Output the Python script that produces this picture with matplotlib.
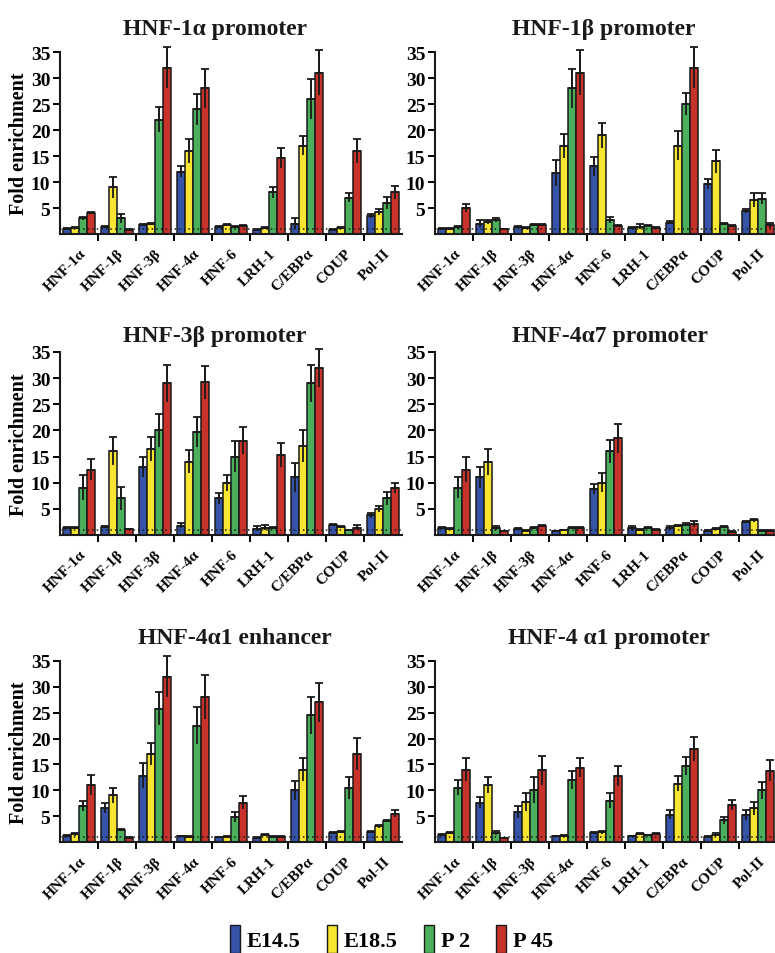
import matplotlib

matplotlib.use("Agg")
import matplotlib.pyplot as plt
import numpy as np
from matplotlib.patches import Patch

plt.rcParams["font.family"] = ["Liberation Serif", "DejaVu Serif"]
plt.rcParams["font.weight"] = "bold"

factors = ["HNF-1α", "HNF-1β", "HNF-3β", "HNF-4α", "HNF-6", "LRH-1", "C/EBPα", "COUP", "Pol-II"]
stages = ["E14.5", "E18.5", "P 2", "P 45"]
colors = ["#3553a8", "#f7e531", "#4caf5c", "#c7322b"]

# rows = stages (E14.5, E18.5, P2, P45), columns = factors
hnf1a_prom = [[1.0, 1.4, 1.8, 12.0, 1.3, 0.8, 2.0, 0.8, 3.5],
              [1.2, 9.0, 2.0, 16.0, 1.7, 1.2, 17.0, 1.2, 4.3],
              [3.0, 3.0, 22.0, 24.0, 1.4, 8.0, 26.0, 7.0, 6.0],
              [4.0, 0.8, 32.0, 28.0, 1.6, 14.6, 31.0, 16.0, 8.0]]
hnf1a_prom_err = [[0.2, 0.2, 0.2, 1.0, 0.2, 0.2, 1.0, 0.2, 0.4],
                  [0.2, 2.0, 0.2, 2.3, 0.2, 0.2, 1.8, 0.2, 0.6],
                  [0.3, 0.8, 2.4, 3.0, 0.2, 1.0, 3.9, 0.9, 1.2],
                  [0.2, 0.1, 4.0, 3.7, 0.2, 1.9, 4.3, 2.3, 1.2]]

hnf1b_prom = [[1.0, 2.0, 1.4, 11.8, 13.0, 1.2, 2.2, 9.6, 4.5],
              [1.0, 2.3, 1.1, 17.0, 19.0, 1.4, 17.0, 14.0, 6.5],
              [1.3, 2.7, 1.8, 28.0, 2.7, 1.5, 25.0, 2.0, 6.8],
              [5.0, 0.9, 1.8, 31.0, 1.6, 1.2, 32.0, 1.6, 1.7]]
hnf1b_prom_err = [[0.2, 0.6, 0.2, 2.5, 1.8, 0.2, 0.3, 1.0, 0.4],
                  [0.2, 0.4, 0.2, 2.3, 2.4, 0.5, 2.8, 2.2, 1.4],
                  [0.3, 0.3, 0.2, 3.7, 0.5, 0.2, 2.2, 0.2, 1.0],
                  [0.8, 0.1, 0.2, 4.3, 0.2, 0.2, 4.0, 0.2, 0.5]]

hnf3b_prom = [[1.3, 1.6, 13.0, 1.8, 7.0, 1.2, 11.0, 1.9, 3.8],
              [1.3, 16.0, 16.5, 14.0, 10.0, 1.4, 17.0, 1.6, 5.0],
              [9.0, 7.0, 20.0, 19.7, 15.0, 1.3, 29.0, 0.9, 7.0],
              [12.5, 1.1, 29.0, 29.2, 18.0, 15.3, 32.0, 1.4, 9.0]]
hnf3b_prom_err = [[0.2, 0.2, 2.0, 0.5, 1.0, 0.5, 2.7, 0.2, 0.5],
                  [0.2, 2.7, 2.3, 2.2, 1.5, 0.5, 3.1, 0.2, 0.6],
                  [2.4, 2.2, 3.2, 2.9, 3.0, 0.2, 3.6, 0.1, 1.2],
                  [2.0, 0.1, 3.6, 3.2, 2.6, 2.3, 3.6, 0.5, 1.0]]

hnf4a7_prom = [[1.3, 11.0, 1.1, 0.7, 8.8, 1.3, 1.3, 0.8, 2.5],
               [1.2, 14.0, 0.8, 0.9, 10.0, 0.9, 1.8, 1.2, 2.8],
               [9.0, 1.3, 1.4, 1.3, 16.0, 1.4, 2.0, 1.5, 0.8],
               [12.5, 0.7, 1.7, 1.4, 18.5, 1.0, 2.1, 0.6, 0.8]]
hnf4a7_prom_err = [[0.2, 2.1, 0.2, 0.1, 1.0, 0.5, 0.4, 0.1, 0.2],
                   [0.2, 2.5, 0.1, 0.1, 1.8, 0.2, 0.2, 0.2, 0.3],
                   [2.0, 0.4, 0.2, 0.2, 2.2, 0.2, 0.3, 0.2, 0.1],
                   [2.4, 0.1, 0.2, 0.2, 2.8, 0.2, 0.5, 0.1, 0.1]]

hnf4a1_enh = [[1.1, 6.6, 12.8, 1.1, 0.9, 0.8, 10.0, 1.7, 2.0],
              [1.5, 9.0, 17.0, 1.0, 1.0, 1.3, 14.0, 2.0, 3.0],
              [7.0, 2.4, 25.8, 22.5, 4.8, 1.0, 24.5, 10.5, 4.0],
              [11.0, 0.8, 32.0, 28.0, 7.6, 1.0, 27.0, 17.0, 5.5]]
hnf4a1_enh_err = [[0.2, 1.0, 2.4, 0.1, 0.1, 0.1, 1.8, 0.2, 0.2],
                  [0.3, 1.4, 2.2, 0.1, 0.1, 0.2, 2.2, 0.2, 0.2],
                  [1.0, 0.2, 3.2, 3.6, 1.0, 0.1, 3.6, 2.1, 0.2],
                  [2.0, 0.1, 3.9, 4.2, 1.3, 0.1, 3.7, 3.1, 0.6]]

hnf4a1_prom = [[1.4, 7.6, 5.8, 1.1, 1.8, 1.1, 5.3, 1.0, 5.2],
               [1.7, 11.0, 7.7, 1.2, 1.9, 1.5, 11.3, 1.4, 6.5],
               [10.5, 1.7, 10.0, 12.0, 8.0, 1.3, 14.7, 4.2, 10.0],
               [14.0, 0.7, 13.9, 14.4, 12.8, 1.6, 18.0, 7.2, 13.8]]
hnf4a1_prom_err = [[0.2, 1.1, 1.2, 0.1, 0.2, 0.1, 0.8, 0.1, 0.9],
                   [0.2, 1.5, 1.8, 0.1, 0.3, 0.2, 1.5, 0.3, 1.3],
                   [1.5, 0.4, 2.5, 1.8, 1.5, 0.1, 1.7, 0.7, 1.6],
                   [2.3, 0.1, 2.8, 1.9, 1.9, 0.2, 2.4, 1.0, 2.0]]

panels = [
    ("HNF-1α promoter", hnf1a_prom, hnf1a_prom_err),
    ("HNF-1β promoter", hnf1b_prom, hnf1b_prom_err),
    ("HNF-3β promoter", hnf3b_prom, hnf3b_prom_err),
    ("HNF-4α7 promoter", hnf4a7_prom, hnf4a7_prom_err),
    ("HNF-4α1 enhancer", hnf4a1_enh, hnf4a1_enh_err),
    ("HNF-4 α1 promoter", hnf4a1_prom, hnf4a1_prom_err),
]

W, H = 775, 954
fig = plt.figure(figsize=(W / 100, H / 100), dpi=100)

# axes boxes in pixels: (left, right) and (top, bottom)
col_x = [(60, 402), (435, 777)]
row_y = [(53, 235), (353, 536), (662, 843)]
title_pad = [13, 8, 13]
title_x = [0.453, 0.494, 0.452, 0.512, 0.512, 0.509]

bar_w = 0.21
x = np.arange(len(factors))

for i, (title, vals, errs) in enumerate(panels):
    r, c = divmod(i, 2)
    x0, x1 = col_x[c]
    y0, y1 = row_y[r]
    ax = fig.add_axes([x0 / W, 1 - y1 / H, (x1 - x0) / W, (y1 - y0) / H])

    for k in range(4):
        pos = x + (k - 1.5) * bar_w
        v = np.array(vals[k])
        e = np.array(errs[k])
        ax.bar(pos, v, bar_w, color=colors[k], edgecolor="#1a1a1a", linewidth=1.1, zorder=2)
        eb1 = ax.errorbar(pos, v, yerr=e, fmt="none", ecolor="#1a1a1a", elinewidth=1.3, capsize=0, zorder=3)
        eb2 = ax.errorbar(pos, v, yerr=[np.zeros_like(e), e], fmt="none", ecolor="#1a1a1a",
                          elinewidth=1.3, capsize=3.2, capthick=1.3, zorder=3)
        for eb in (eb1, eb2):
            for part in eb.lines[1] + eb.lines[2]:
                part.set_clip_on(False)

    ax.axhline(1, color="#1a1a1a", ls=(0, (1, 2)), lw=1.1, zorder=4)
    ax.set_xlim(-0.5, len(factors) - 0.5)
    ax.set_ylim(0, 35)
    ax.set_yticks([5, 10, 15, 20, 25, 30, 35])
    ax.set_xticks(np.arange(0.5, len(factors) - 1, 1.0))
    ax.set_xticklabels([])
    ax.set_xticks(x, minor=True)
    ax.set_xticklabels(factors, minor=True, rotation=45, ha="right", rotation_mode="anchor",
                       fontsize=11, fontweight="bold")
    ax.tick_params(axis="x", which="minor", length=0, pad=9)
    ax.tick_params(axis="x", which="major", length=5, width=1.4, direction="out")
    ax.tick_params(axis="y", length=5, width=1.4, labelsize=14, pad=2)
    for lab in ax.get_yticklabels():
        lab.set_fontweight("bold")
    for side in ("top", "right"):
        ax.spines[side].set_visible(False)
    for side in ("left", "bottom"):
        ax.spines[side].set_linewidth(1.5)
        ax.spines[side].set_color("#1a1a1a")
    ax.set_title(title, fontsize=17, fontweight="bold", pad=title_pad[r], color="#1a1a1a", x=title_x[i])
    if c == 0:
        ax.set_ylabel("Fold enrichment", fontsize=14.5, fontweight="bold", labelpad=1)

handles = [Patch(facecolor=col, edgecolor="#1a1a1a", linewidth=1.0) for col in colors]
fig.legend(handles, stages, loc="center", bbox_to_anchor=(0.505, 1 - 940 / H), ncol=4, frameon=False,
           handlelength=0.45, handleheight=1.5, handletextpad=0.3, columnspacing=1.2,
           prop={"weight": "bold", "size": 16})

fig.savefig("out.png", dpi=100)
